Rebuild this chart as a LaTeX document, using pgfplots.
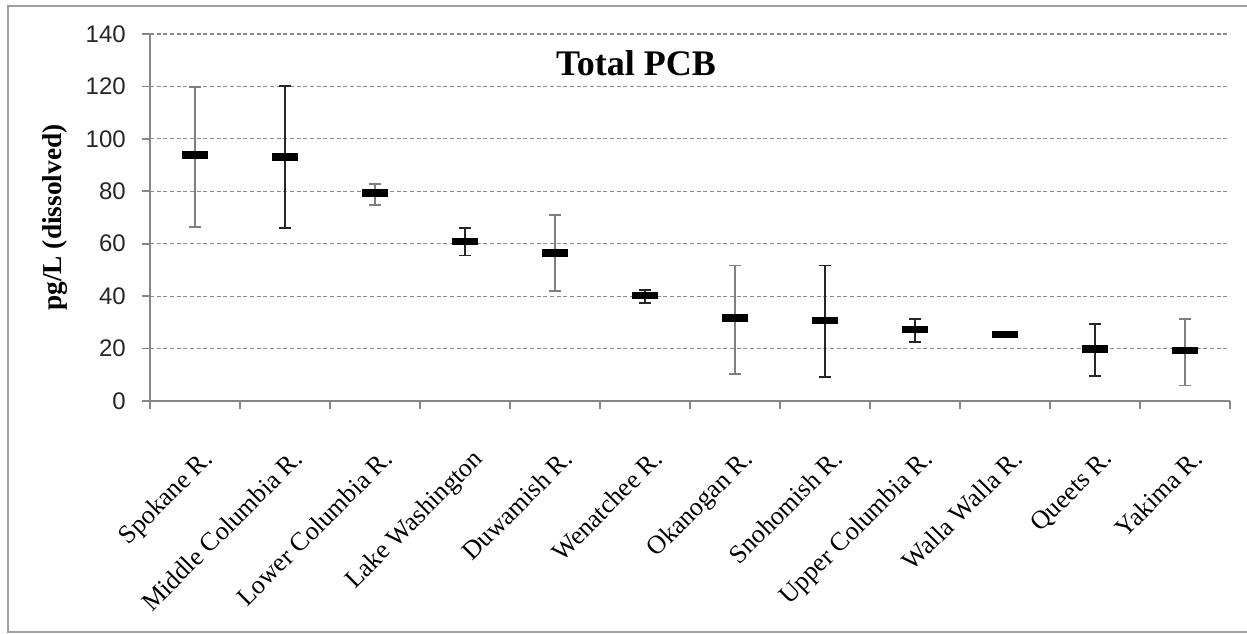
\documentclass[border=0pt]{standalone}
\usepackage{fontspec}
\setmainfont{Liberation Serif}
\newfontfamily\arialfont{Liberation Sans}
\usepackage{pgfplots}
\pgfplotsset{compat=1.18}
\definecolor{axisgray}{HTML}{868686}
\definecolor{gridgray}{HTML}{8C8C8C}
\definecolor{bargray}{HTML}{7F7F7F}

% error bars: mean, plus, minus
\pgfplotstableread{
x  y     ep    em
0  93.8  26.0  27.3
2  79.3  3.4   4.6
4  56.5  14.4  14.6
6  31.7  20.0  21.4
11 19.2  12.1  13.3
}\grayset
\pgfplotstableread{
x  y     ep    em
1  93.1  26.9  27.2
3  60.9  5.0   5.4
5  40.3  2.2   2.8
7  30.8  20.9  21.8
8  27.4  3.9   4.8
10 19.8  9.6   10.1
}\blackset

\begin{document}
\begin{tikzpicture}
% 1 px of the reference = 0.75pt, axis corner at px (150,401)
\useasboundingbox (-112.5pt,-174pt) rectangle (822.75pt,300.75pt);
\draw[axisgray!80, line width=0.9pt] (823pt,296.25pt) -- (-106.5pt,296.25pt) -- (-106.5pt,-173.25pt) -- (823pt,-173.25pt);
\begin{axis}[
    scale only axis,
    width=810pt, height=275.25pt,
    at={(0,0)}, anchor=south west,
    xmin=-0.5, xmax=11.5,
    ymin=0, ymax=140, ytick={0,20,...,140},
    axis x line*=bottom, axis y line*=left,
    axis line style={axisgray, line width=1.2pt},
    xtick={0,...,11},
    xticklabels={Spokane R., Middle Columbia R., Lower Columbia R., Lake Washington, Duwamish R., Wenatchee R., Okanogan R., Snohomish R., Upper Columbia R., Walla Walla R., Queets R., Yakima R.},
    major x tick style={draw=none},
    minor xtick={-0.5,0.5,...,11.5},
    minor tick length=6pt,
    minor x tick style={axisgray, line width=1.2pt},
    tick align=outside,
    major tick length=6pt,
    ytick style={axisgray, line width=1.2pt},
    ymajorgrids,
    grid style={gridgray, dashed, line width=0.9pt, dash pattern=on 3pt off 2pt},
    /pgf/number format/assume math mode=true,
    yticklabel style={font=\arialfont\fontsize{18}{20}\selectfont, text=black!85, inner sep=0pt, xshift=-12pt},
    xticklabel style={font=\fontsize{19.5}{21}\selectfont, inner sep=0pt, xshift=4.5pt, yshift=-29pt, rotate=45, anchor=north east},
    title={\textbf{Total PCB}},
    title style={font=\fontsize{27}{30}\selectfont, at={(axis description cs:0.45,0.90)}, anchor=center},
    ylabel={\textbf{pg/L (dissolved)}},
    ylabel style={font=\fontsize{20.5}{22}\selectfont, at={(axis description cs:-0.088,0.5)}, anchor=center},
    clip=false,
]
  \addplot[draw=none, forget plot,
    error bars/.cd, y dir=both, y explicit, error mark=|,
    error bar style={draw=bargray, line width=2pt},
    error mark options={draw=bargray, line width=1.4pt, mark size=4.2pt}]
    table[x=x, y=y, y error plus=ep, y error minus=em] {\grayset};
  \addplot[draw=none, forget plot,
    error bars/.cd, y dir=both, y explicit, error mark=|,
    error bar style={draw=black!85, line width=1.5pt},
    error mark options={draw=black!85, line width=1.4pt, mark size=4.2pt}]
    table[x=x, y=y, y error plus=ep, y error minus=em] {\blackset};
  \addplot[only marks, mark=-, mark size=10pt, mark options={draw=black, line width=5.5pt}]
    coordinates {(0,93.8)(1,93.1)(2,79.3)(3,60.9)(4,56.5)(5,40.3)(6,31.7)(7,30.8)(8,27.4)(9,25.4)(10,19.8)(11,19.2)};
\end{axis}
\end{tikzpicture}
\end{document}
